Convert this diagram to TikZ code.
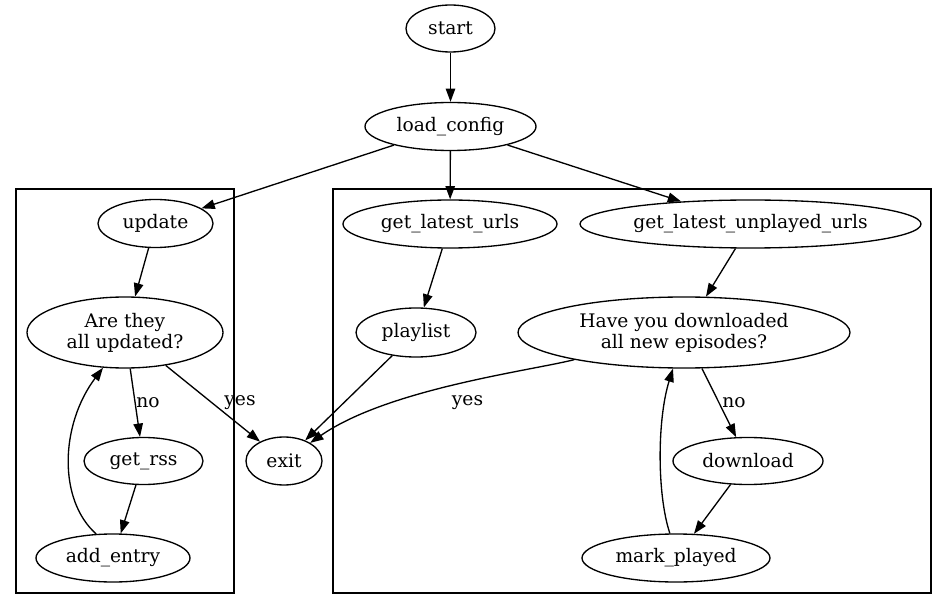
\documentclass[tikz,border=0pt]{standalone}
\usepackage{fontspec}
\setmainfont{DejaVu Serif}
\usetikzlibrary{shapes.geometric,arrows.meta}
\begin{document}
\begin{tikzpicture}[x=1pt,y=-1pt,
  every node/.style={font=\fontsize{18.67}{21}\selectfont},
  st/.style={draw, ellipse, line width=1.33pt, inner sep=0pt, align=center},
  lbl/.style={inner sep=0pt},
  arr/.style={line width=1.33pt, -{Triangle[length=13.3pt,width=9.5pt]}},
  cluster/.style={draw, line width=1.33pt}]
\useasboundingbox (0,0) rectangle (947,609);
\fill[white] (0,0) rectangle (947,609);
% clusters
\draw[cluster] (16,189) rectangle (234,593);
\draw[cluster] (333,189) rectangle (931,593);
% nodes
\node[st, minimum width=89pt, minimum height=47pt] (start) at (450.5,28.5) {start};
\node[st, minimum width=171pt, minimum height=48pt] (lc) at (450.5,126.5) {load\_config};
\node[st, minimum width=115pt, minimum height=48pt] (up) at (155.5,223.5) {update};
\node[st, minimum width=196pt, minimum height=71pt] (at) at (125,332.5) {Are they\\all updated?};
\node[st, minimum width=119pt, minimum height=47pt] (rss) at (143.5,461) {get\_rss};
\node[st, minimum width=154pt, minimum height=48pt] (ae) at (113,558) {add\_entry};
\node[st, minimum width=76pt, minimum height=48pt] (ex) at (284,461) {exit};
\node[st, minimum width=214pt, minimum height=48pt] (glu) at (450,224) {get\_latest\_urls};
\node[st, minimum width=341pt, minimum height=48pt] (glp) at (750.5,224) {get\_latest\_unplayed\_urls};
\node[st, minimum width=120pt, minimum height=49pt] (pl) at (416,332.5) {playlist};
\node[st, minimum width=332pt, minimum height=71pt] (hy) at (684,332.5) {Have you downloaded\\all new episodes?};
\node[st, minimum width=150pt, minimum height=47pt] (dl) at (748,461) {download};
\node[st, minimum width=188pt, minimum height=48pt] (mp) at (676,558) {mark\_played};
% edges
\draw[arr] (start) -- (lc);
\draw[arr] (lc) -- (up);
\draw[arr] (lc) -- (glu);
\draw[arr] (lc) -- (glp);
\draw[arr] (up) -- (at);
\draw[arr] (at) -- (rss);
\draw[arr] (at) -- (ex);
\draw[arr] (rss) -- (ae);
\draw[arr] (ae.125) .. controls (58,500) and (60,425) .. (at.238);
\draw[arr] (glu) -- (pl);
\draw[arr] (pl) -- (ex);
\draw[arr] (glp) -- (hy);
\draw[arr] (hy) .. controls (528.6,371) and (388,389) .. (ex);
\draw[arr] (hy) -- (dl);
\draw[arr] (dl) -- (mp);
\draw[arr] (mp.104) .. controls (657,495) and (657,420) .. (hy.253);
% labels
\node[lbl] (lno1) at (148,403) {no};
\node[lbl] (lyes1) at (240,403) {yes};
\node[lbl] (lyes2) at (467.5,403) {yes};
\node[lbl] (lno2) at (734,403) {no};
\end{tikzpicture}
\end{document}
